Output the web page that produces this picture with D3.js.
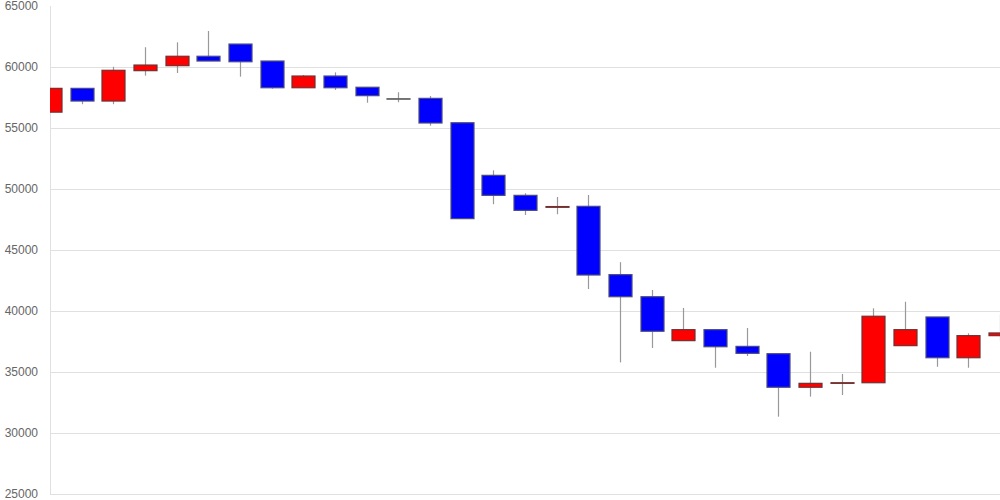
<!DOCTYPE html>
<html><head><meta charset="utf-8">
<script src="https://cdn.jsdelivr.net/npm/d3@7"></script>
<style>body{margin:0;background:#fff}svg{display:block}</style>
</head><body><svg id="c" width="1000" height="500"></svg>
<script>
const opens  = [56300,58250,57210,59700,60110,60880,61880,60490,58300,59260,58340,57400,57430,55430,51120,49480,48500,48580,42980,41170,37570,38470,37100,36500,33750,34070,34120,37160,39510,36170,37980];
const closes = [58250,57210,59730,60160,60880,60490,60430,58300,59260,58300,57650,57400,55410,47570,49480,48250,48560,42950,41170,38340,38470,37070,36530,33750,34070,34120,39570,38470,36170,37980,38200];
const highs  = [58250,58250,60020,61620,62020,62950,61880,60490,59340,59560,58340,57930,57620,55430,51530,49650,49340,49510,44000,41720,40250,38470,38610,36500,36660,34840,40220,40760,39510,38170,39670];
const lows   = [56300,56950,56950,59290,59510,60490,59210,58220,58300,58120,57070,57110,55190,47570,48750,47870,47930,41800,35790,36970,37570,35350,36310,31340,32980,33110,34120,37160,35430,35350,37570];
const yTicks = [25000,30000,35000,40000,45000,50000,55000,60000,65000];

const svg = d3.select('#c');
const L=50, R=1000, T=6, B=494;
const x = d3.scalePoint().domain(d3.range(opens.length)).range([L,R]).padding(0);
const y = d3.scaleLinear().domain([25000,65000]).range([B,T]);

svg.append('defs').append('clipPath').attr('id','clip')
  .append('rect').attr('x',L).attr('y',0).attr('width',R-L).attr('height',500);

const ax = svg.append('g').attr('transform',`translate(${L},0)`)
  .call(d3.axisLeft(y).tickValues(yTicks).tickSize(10).tickPadding(2).tickFormat(d3.format('d')));
ax.select('.domain').remove();
ax.selectAll('.tick line').attr('stroke','#e0e0e0').attr('x2',R-L)
  .attr('display',d=>d===65000?'none':null);
ax.selectAll('.tick text').attr('fill','#666').style('font-family','"Liberation Sans",Arial,sans-serif').style('font-size','12px');
svg.append('line').attr('x1',L+0.5).attr('x2',L+0.5).attr('y1',T).attr('y2',B).attr('stroke','#e0e0e0');

const g = svg.append('g').attr('clip-path','url(#clip)');
const idx = d3.range(opens.length);
const bw = 23;
g.selectAll('line.w').data(idx).join('line').attr('class','w')
  .attr('x1',i=>Math.round(x(i))+0.5).attr('x2',i=>Math.round(x(i))+0.5)
  .attr('y1',i=>y(highs[i])).attr('y2',i=>y(lows[i]))
  .attr('stroke','#999').attr('stroke-width',1.2);
g.selectAll('rect.b').data(idx).join('rect').attr('class','b')
  .attr('x',i=>Math.round(x(i))-bw/2+0.5)
  .attr('width',bw)
  .attr('y',i=>y(Math.max(opens[i],closes[i])))
  .attr('height',i=>Math.max(0.5,Math.abs(y(opens[i])-y(closes[i]))))
  .attr('fill',i=>closes[i]>opens[i]?'#ff0000':(closes[i]<opens[i]?'#0000ff':'#555'))
  .attr('stroke',i=>closes[i]>opens[i]?'#703030':(closes[i]<opens[i]?'#4a4a80':'#666')).attr('stroke-width',1.2);
</script></body></html>
